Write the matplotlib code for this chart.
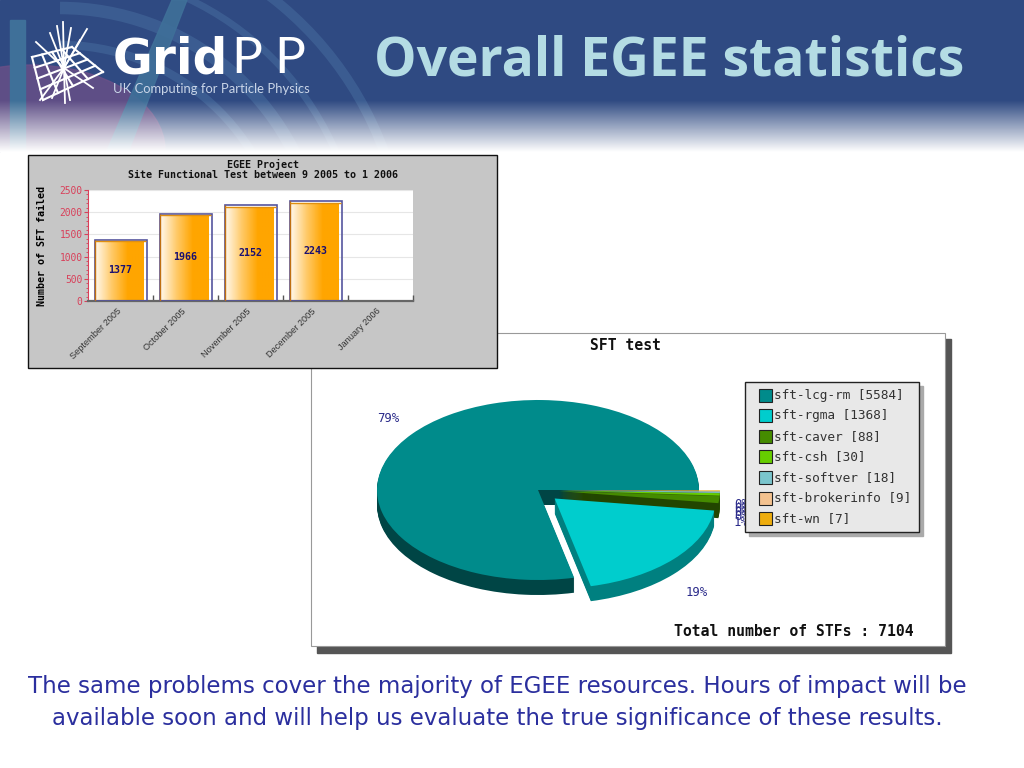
import numpy as np
import matplotlib
matplotlib.use('Agg')
import matplotlib.pyplot as plt
from matplotlib.patches import Rectangle, Arc, Ellipse, Polygon
from matplotlib.colors import LinearSegmentedColormap

W, H = 1024, 768

# bar chart data
months = ['September 2005', 'October 2005', 'November 2005', 'December 2005', 'January 2006']
failed = [1377, 1966, 2152, 2243]
bar_yticks = [0, 500, 1000, 1500, 2000, 2500]

# pie data
sft_names = ['sft-lcg-rm', 'sft-rgma', 'sft-caver', 'sft-csh', 'sft-softver', 'sft-brokerinfo', 'sft-wn']
sft_counts = [5584, 1368, 88, 30, 18, 9, 7]
sft_colors = ['#008B8B', '#00CDCD', '#458B00', '#66CD00', '#7AC5CD', '#F4C28F', '#EEAD0E']
sft_sides = ['#004545', '#008080', '#224500', '#336600', '#3D6266', '#7A6147', '#775707']
sft_explode = [0, 0.14, 0.13, 0.13, 0.13, 0.13, 0.13]

MONO = 'DejaVu Sans Mono'


def px_axes(x0, y0, x1, y1, **kw):
    # axes placed by pixel box, y counted from the top of the picture
    return fig.add_axes([x0 / W, 1 - y1 / H, (x1 - x0) / W, (y1 - y0) / H], **kw)


def draw_header(ax):
    ax.add_patch(Rectangle((0, 0), W, 160, color='#2F4A82', zorder=1))
    ax.add_patch(Ellipse((30, 150), 270, 170, color='#6B5088', alpha=0.8, zorder=1.1))
    for r, lw in [(225, 6), (262, 9), (300, 5), (345, 7)]:
        ax.add_patch(Arc((60, 270), 2 * r, 2 * r, theta1=270, theta2=350, color='#4F78A8',
                         alpha=0.4, lw=lw, zorder=1.2))
    ax.add_patch(Rectangle((10, 20), 15, 140, color='#3F7099', zorder=1.3))
    ax.add_patch(Polygon([(172, 0), (187, 0), (125, 160), (103, 160)], color='#3F7099', alpha=0.9, zorder=1.3))
    # fade to white at the bottom of the header
    fade = np.ones((60, 2, 4))
    fade[:, :, 3] = np.linspace(0, 1, 60)[:, None]
    ax.imshow(fade, extent=(0, W, 152, 100), aspect='auto', zorder=1.5)
    ax.add_patch(Rectangle((0, 152), W, 160, color='white', zorder=1.6))

    # logo grid
    c = np.array([(32, 57), (72, 47), (103, 72), (43, 100)], float)
    for t in np.linspace(0, 1, 5):
        a, b = c[0] + t * (c[1] - c[0]), c[3] + t * (c[2] - c[3])
        ax.plot([a[0], b[0]], [a[1], b[1]], color='white', lw=1.5, zorder=2)
        a, b = c[0] + t * (c[3] - c[0]), c[1] + t * (c[2] - c[1])
        ax.plot([a[0], b[0]], [a[1], b[1]], color='white', lw=1.5, zorder=2)
    for ex, ey in [(63, 22), (57, 26), (71, 28), (87, 29), (36, 42), (50, 33), (40, 100),
                   (65, 103), (70, 100), (93, 88), (52, 98), (80, 40)]:
        ax.plot([64, ex], [68, ey], color='white', lw=1.3, zorder=2)

    ax.text(113, 60, 'Grid', color='white', fontsize=35, fontweight='black', family='DejaVu Sans',
            va='center', ha='left', zorder=3)
    for x in [231, 274]:
        ax.text(x, 59, 'P', color='white', fontsize=37, family='Lato', va='center', ha='left', zorder=3)
    ax.text(113, 89, 'UK Computing for Particle Physics', color='#C9D5E8', fontsize=9.4, family='Lato',
            va='center', ha='left', zorder=3)
    ax.text(964, 62, 'Overall EGEE statistics', color='#B4DCE4', fontsize=38.5, fontweight='bold',
            family='Open Sans', va='center', ha='right', zorder=3)


def draw_bars(ax):
    grad = LinearSegmentedColormap.from_list('bar', ['#FFF6E6', '#FFC966', '#FFA500', '#FFA500'])
    xs = np.arange(len(failed)) + 0.5
    for x, v in zip(xs, failed):
        ax.imshow(np.linspace(0, 1, 64)[None, :], cmap=grad, aspect='auto',
                  extent=(x - 0.37, x + 0.355, 0, v - 55), zorder=2)
    ax.bar(xs, failed, width=0.8, fill=False, edgecolor='#55559E', lw=1.2, zorder=3)
    ax.vlines(xs - 0.385, 0, failed, color='#C07010', lw=1, zorder=3)
    ax.hlines(np.array(failed) - 28, xs - 0.39, xs + 0.385, color='#E09010', lw=1, zorder=3)
    for x, v in zip(xs, failed):
        ax.text(x, v / 2, str(v), ha='center', va='center', color='#1A1070', fontsize=7.2,
                fontweight='bold', family=MONO, zorder=4)
    ax.set_xlim(0, 5)
    ax.set_ylim(0, 2500)
    ax.set_facecolor('white')
    ax.set_yticks(bar_yticks)
    ax.set_yticks(np.arange(0, 2501, 100), minor=True)
    ax.tick_params(axis='y', which='major', colors='#D8405A', length=3, width=0.8, pad=1)
    ax.tick_params(axis='y', which='minor', colors='#D8405A', length=1.5, width=0.6)
    for lab in ax.get_yticklabels():
        lab.set_family(MONO)
        lab.set_fontsize(6.9)
    ax.set_xticks(np.arange(1, 6))
    ax.set_xticklabels([])
    ax.tick_params(axis='x', direction='in', length=4, width=1, color='#555555')
    ax.grid(axis='y', color='#E6E6E6', lw=0.8, zorder=1)
    for s in ['top', 'right']:
        ax.spines[s].set_visible(False)
    ax.spines['left'].set_color('#D8405A')
    ax.spines['bottom'].set_color('#666666')
    ax.spines['bottom'].set_linewidth(1.6)
    for i, m in enumerate(months):
        ax.annotate(m, (i + 0.5, 0), xytext=(-3, -4), textcoords='offset points', rotation=45,
                    ha='right', va='top', rotation_mode='anchor', fontsize=6.6, color='#333333',
                    family='Liberation Sans', annotation_clip=False)
    ax.set_ylabel('Number of SFT failed', fontsize=7.2, fontweight='bold', family=MONO, labelpad=9)


def draw_pie(ax):
    depth = 15 / 90
    for dy in np.linspace(depth, 0, 16)[:-1]:
        ax.pie(sft_counts, explode=sft_explode, colors=sft_sides, startangle=0,
               center=(0, -dy), wedgeprops={'lw': 0})
    ax.pie(sft_counts, explode=sft_explode, colors=sft_colors, startangle=0, wedgeprops={'lw': 0})
    ax.set_xlim(-1.25, 1.25)
    ax.set_ylim(-1.25, 1.25)
    ax.set_aspect('auto')


def draw_legend(ax):
    ax.add_patch(Rectangle((749, 386), 174, 150, color='#AAAAAA', zorder=1))
    ax.add_patch(Rectangle((745, 382), 174, 150, facecolor='#E8E8E8', edgecolor='#222222', lw=1, zorder=2))
    for i, (n, v, c) in enumerate(zip(sft_names, sft_counts, sft_colors)):
        y = 395 + i * 20.6
        ax.add_patch(Rectangle((758.5, y - 6.5), 13, 13, facecolor=c, edgecolor='#222222', lw=0.8, zorder=3))
        ax.text(774, y, f'{n} [{v}]', va='center', ha='left', family=MONO, fontsize=9.17,
                color='#333333', zorder=3)


fig = plt.figure(figsize=(W / 100, H / 100), dpi=100, facecolor='white')

bg = px_axes(0, 0, W, H)
bg.axis('off')
draw_header(bg)
bg.set_xlim(0, W)
bg.set_ylim(H, 0)

# SFT test card
bg.add_patch(Rectangle((317, 339), 634, 314, color='#555555', zorder=4))
bg.add_patch(Rectangle((311, 333), 634, 313, facecolor='white', edgecolor='#999999', lw=0.8, zorder=4.1))
bg.text(626, 346, 'SFT test', ha='center', va='center', family=MONO, fontweight='bold', fontsize=10.6,
        color='#111111', zorder=5)
bg.text(914, 631, f'Total number of STFs : {sum(sft_counts)}', ha='right', va='center', family=MONO,
        fontweight='bold', fontsize=10.6, color='#111111', zorder=5)
total = sum(sft_counts)
for (x, y), v in zip([(388, 418), (697, 593)], sft_counts[:2]):
    bg.text(x, y, f'{round(v * 100 / total)}%', ha='center', va='center',
            color='#2A2A8A', fontsize=8.8, family=MONO, zorder=5)
for y, v in zip([523, 517, 513, 509, 505], sft_counts[2:]):
    bg.text(734, y, f'{round(v * 100 / total)}%', ha='left', va='center', color='#2A2A8A',
            fontsize=8.8, family=MONO, zorder=5)

# bar chart panel
bg.add_patch(Rectangle((28, 155), 469, 213, facecolor='#C6C6C6', edgecolor='#111111', lw=1, zorder=6))
bg.text(263, 164.5, 'EGEE Project', ha='center', va='center', family=MONO, fontweight='bold', fontsize=7.2,
        color='#111111', zorder=7)
bg.text(263, 175.5, 'Site Functional Test between 9 2005 to 1 2006', ha='center', va='center', family=MONO,
        fontweight='bold', fontsize=7.2, color='#111111', zorder=7)

# caption
for y, line in [(687, 'The same problems cover the majority of EGEE resources. Hours of impact will be'),
                (718, 'available soon and will help us evaluate the true significance of these results.')]:
    bg.text(497.5, y, line, ha='center', va='center', color='#2B2F9E', fontsize=16.5, family='DejaVu Sans')

bar_ax = px_axes(88, 190, 413, 301, zorder=3)
draw_bars(bar_ax)

pie_ax = px_axes(538 - 161 * 1.25, 490 - 90 * 1.25, 538 + 161 * 1.25, 490 + 90 * 1.25, zorder=2)
draw_pie(pie_ax)

top = px_axes(0, 0, W, H, zorder=4)
top.patch.set_alpha(0)
top.axis('off')
top.set_xlim(0, W)
top.set_ylim(H, 0)
draw_legend(top)

fig.savefig('out.png', dpi=100)
